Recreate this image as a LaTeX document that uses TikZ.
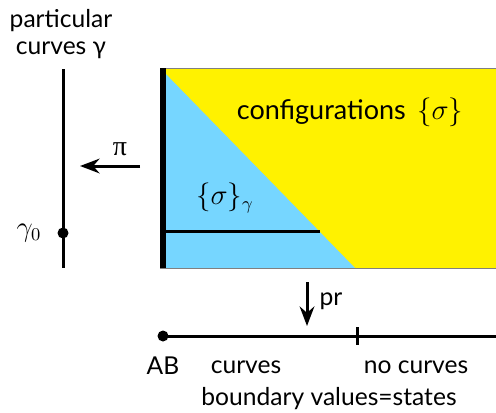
\documentclass[tikz,border=0pt]{standalone}
\usepackage{fontspec}
\setmainfont{Lato}
\newfontfamily\grkserif{Liberation Serif}
\usepackage{tikz}
\usetikzlibrary{arrows.meta,positioning,calc}
\definecolor{skyblue}{RGB}{118,214,255}

\begin{document}
\begin{tikzpicture}[x=0.5pt,y=-0.5pt,>=Stealth,
    lbl/.style={font=\fontsize{12.3}{13.5}\selectfont,inner sep=0pt},
    big/.style={font=\fontsize{13.5}{16}\selectfont,inner sep=0pt},
    bar/.style={line width=1.5pt}]
  \useasboundingbox (0,0) rectangle (496,412);
  % configuration space
  \fill[yellow] (160,68) rectangle (496,268);
  \fill[skyblue] (160,68)--(355,268)--(160,268)--cycle;
  \draw[gray,line width=0.4pt] (160,68)--(496,68) (160,268)--(496,268);
  \draw[line width=3pt] (163,68)--(163,268);
  \draw[bar] (164,231)--(320,231);
  \node[big] (conf) at (350,112) {configurations \,$\{\sigma\}$};
  \node[big] (sub) at (225,198) {$\{\sigma\}_\gamma$};
  % curves axis
  \node[lbl,align=center] (curv) at (61,34) {particular\\curves γ};
  \draw[bar] (63,69)--(63,268);
  \fill (63,233) circle (5.5);
  \node[big] (g0) at (29,233) {$\gamma_0$};
  \coordinate (pis) at (140,166);
  \coordinate (pie) at (80,166);
  \draw[->,bar] (pis)--(pie);
  \node[big,font=\grkserif\fontsize{14}{16}\selectfont] (pi) at (120,149) {π};
  % boundary values
  \coordinate (prs) at (307,282);
  \coordinate (pre) at (307,326);
  \draw[->,bar] (prs)--(pre);
  \node[lbl] (pr) at (331,301) {pr};
  \coordinate (ab) at (163,336);
  \coordinate (tick) at (357,336);
  \draw[bar] (ab)--(496,336);
  \draw[bar] ($(tick)+(0,-9)$)--($(tick)+(0,9)$);
  \fill (ab) circle (5.5);
  \node[lbl] (abl) at (163,366) {AB};
  \node[lbl] (cl) at (246,367) {curves};
  \node[lbl] (ncl) at (416,367) {no curves};
  \node[lbl] (bv) at (329,399) {boundary values=states};
\end{tikzpicture}
\end{document}
